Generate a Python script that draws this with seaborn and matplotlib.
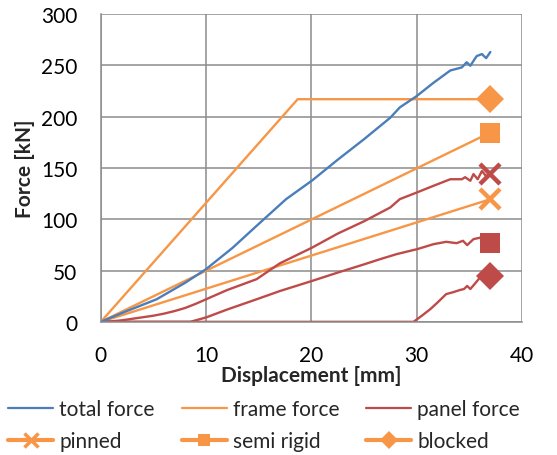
import matplotlib
matplotlib.use("Agg")
import matplotlib.pyplot as plt
from matplotlib.lines import Line2D
import seaborn as sns
import pandas as pd

# Total force curve (pinned case)
total_x = [0, 2.1, 5.3, 8, 10, 12.5, 14.8, 17.6, 20.1, 22.5, 25, 27.5, 28.4, 30,
           31.6, 33.2, 34.3, 34.75, 35.1, 35.7, 36.2, 36.6, 37]
total_y = [0, 9, 22, 38, 51.4, 72, 93.6, 119.6, 138, 158, 178, 199, 209, 220,
           233, 245, 248, 253, 249.6, 259, 261, 257, 263]

# Frame force lines
frame_pinned_x = [0, 37]
frame_pinned_y = [0, 119.5]
frame_semi_x = [0, 37]
frame_semi_y = [0, 184.5]
frame_blocked_x = [0, 18.7, 37]
frame_blocked_y = [0, 217, 217]

# Panel force curves
panel_pinned_x = [0, 1, 2, 3, 4, 5, 6, 7, 8, 9, 10, 12, 14.8, 17, 20.1, 22.5, 25,
                  27.5, 28.4, 30, 31.6, 33.2, 34.3, 34.6, 35.1, 35.4, 35.8, 36.2,
                  36.6, 37]
panel_pinned_y = [0, 0.5, 1.5, 3, 4.5, 6, 8, 10.5, 13.5, 17.5, 22, 31, 41.6, 57,
                  72.5, 86, 98, 111.5, 119.6, 126, 132.6, 139, 139, 141, 137.5,
                  144, 139, 147, 142, 144]
panel_semi_x = [0, 8.5, 10, 12, 14.8, 17, 20.1, 22.5, 25, 26.5, 28.1, 30.1, 31.6,
                32.8, 33.8, 34.4, 34.8, 35.4, 36, 36.5, 37]
panel_semi_y = [0, 0, 4.3, 12, 22, 30, 40, 48, 56, 61, 66, 71, 75.7,
                78, 76.7, 79, 74.8, 80.6, 82, 78, 77]
panel_blocked_x = [0, 29.7, 30.5, 31.3, 32, 32.8, 33.5, 34.1, 34.5, 34.8, 35.1,
                   35.6, 36, 36.5, 37]
panel_blocked_y = [0, 0, 6, 12.4, 19, 27, 29, 31, 32, 35, 32, 38, 43, 44, 45]

# End markers: (x, frame value, panel value)
end_x = 37
end_frame = [119.5, 184.5, 217]
end_panel = [144, 77, 45]
end_markers = ["x", "s", "D"]

blue = "#4A7EBB"
orange = "#F79646"
red = "#BE4B48"
grid_c = "#8C8C8C"

sns.set_style("white")
plt.rcParams["font.family"] = ["Lato", "DejaVu Sans"]

fig = plt.figure(figsize=(5.57, 4.56), dpi=100)
ax = fig.add_axes([0.181, 0.292, 0.756, 0.675])

def curve(xs, ys, color):
    d = pd.DataFrame({"x": xs, "y": ys})
    sns.lineplot(data=d, x="x", y="y", ax=ax, color=color, lw=1.7,
                 sort=False, estimator=None)

curve(frame_pinned_x, frame_pinned_y, orange)
curve(frame_semi_x, frame_semi_y, orange)
curve(frame_blocked_x, frame_blocked_y, orange)
curve(panel_pinned_x, panel_pinned_y, red)
curve(panel_semi_x, panel_semi_y, red)
curve(panel_blocked_x, panel_blocked_y, red)
curve(total_x, total_y, blue)

sizes = [14, 14, 14]
for m, fv, pv, ms in zip(end_markers, end_frame, end_panel, sizes):
    for val, col in [(fv, orange), (pv, red)]:
        ax.plot([end_x], [val], marker=m, ms=ms, color=col, mew=3.2 if m == "x" else 0,
                ls="none", zorder=5)

ax.set_xlim(0, 40)
ax.set_ylim(0, 300)
ax.set_xticks([0, 10, 20, 30, 40])
ax.set_yticks(range(0, 301, 50))
ax.grid(True, color=grid_c, lw=1.1)
ax.set_axisbelow(True)
for s in ["top", "right"]:
    ax.spines[s].set_visible(False)
for s in ["left", "bottom"]:
    ax.spines[s].set_color(grid_c)
    ax.spines[s].set_linewidth(1.1)
ax.tick_params(direction="out", length=5, width=1.1, color=grid_c,
               labelsize=15, labelcolor="black", pad=12)
ax.set_xlabel("Displacement [mm]", fontsize=15, fontweight="bold", labelpad=0)
ax.set_ylabel("Force [kN]", fontsize=15, fontweight="bold", labelpad=4)

handles = [
    Line2D([], [], color=blue, lw=1.6),
    Line2D([], [], color=orange, lw=3, marker="x", ms=10, mew=2.5),
    Line2D([], [], color=orange, lw=1.6),
    Line2D([], [], color=orange, lw=3, marker="s", ms=9, mew=0),
    Line2D([], [], color=red, lw=1.6),
    Line2D([], [], color=orange, lw=3, marker="D", ms=9, mew=0),
]
labels = ["total force", "pinned", "frame force", "semi rigid", "panel force", "blocked"]
fig.legend(handles, labels, ncol=3, loc="upper left", bbox_to_anchor=(0.0144, 0.1225),
           frameon=False, fontsize=15, handlelength=2.16, handletextpad=0.29,
           columnspacing=1.3, labelspacing=0.58, borderpad=0, borderaxespad=0)

fig.savefig("out.png", dpi=100)
